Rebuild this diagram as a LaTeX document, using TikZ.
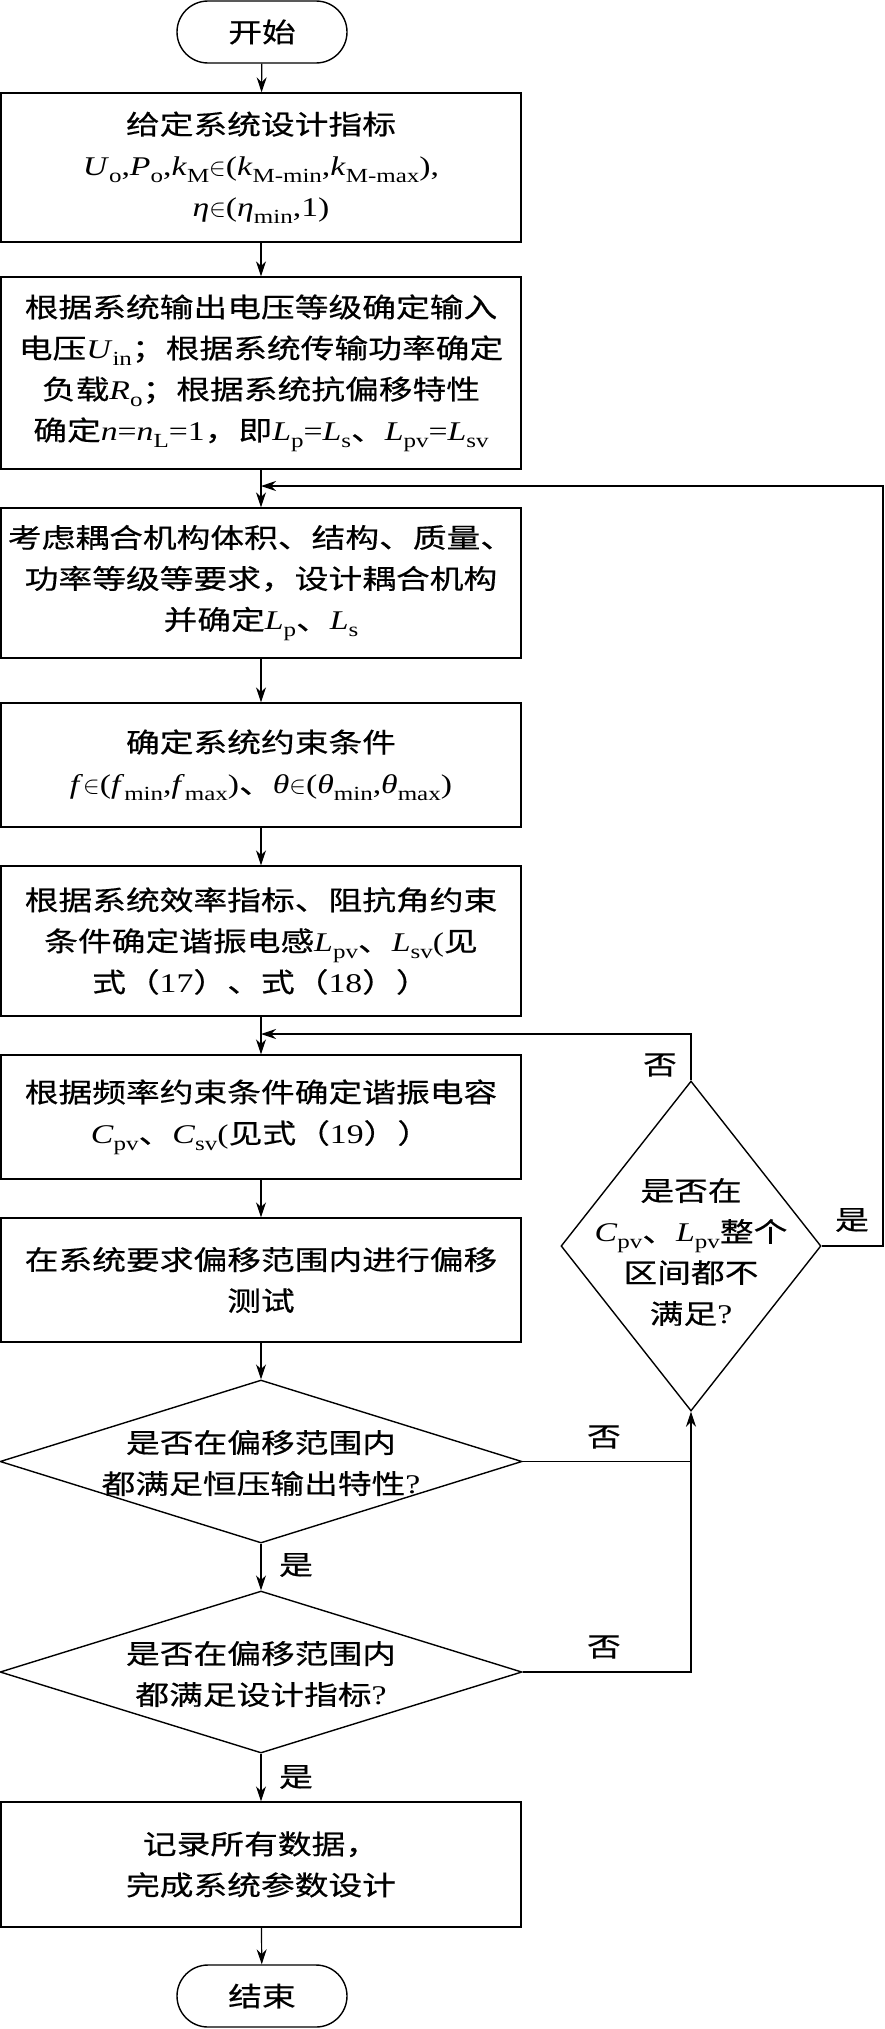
\documentclass[tikz,border=0pt]{standalone}
\usepackage{fontspec}
\setmainfont{Liberation Serif}[FakeStretch=1.25]
\newfontfamily\cjk{Noto Sans CJK SC}[FakeStretch=1.25,FakeBold=0.5]
\usetikzlibrary{shapes.geometric,arrows.meta}
\newcommand\zh[1]{{\cjk #1}}
\newcommand\vsub[2]{\textit{#1}\raisebox{-7pt}{\fontsize{20}{20}\selectfont #2}}
\tikzset{
  procbox/.style={draw, rectangle, line width=1.4pt, minimum width=520pt, inner sep=0pt, align=center},
  termbox/.style={draw, rectangle, rounded corners=31pt, line width=1.4pt, minimum width=170pt, minimum height=62pt, inner sep=0pt},
  decbox/.style={draw, diamond, line width=1.4pt, inner sep=0pt},
  txt/.style={align=center, inner sep=0pt},
  arr/.style={-{Stealth[length=15pt,width=10pt]}, line width=1.2pt},
  ln/.style={line width=1.2pt}
}
\begin{document}
\begin{tikzpicture}[x=1pt, y=-1pt, font=\fontsize{27}{41}\selectfont]
\useasboundingbox (0,0) rectangle (885,2029);
% terminals
\node[termbox] (start) at (262,32) {\zh{开始}};
\node[termbox] (stop) at (262,1996) {\zh{结束}};
% process boxes
\node[procbox, minimum height=149pt] (b1) at (261,167.5)
  {\zh{给定系统设计指标}\\
   \vsub{U}{o},\vsub{P}{o},\vsub{k}{M}$\in$(\vsub{k}{M-min},\vsub{k}{M-max}),\\
   \textit{η}$\in$(\vsub{η}{min},1)};
\node[procbox, minimum height=192pt] (b2) at (261,373)
  {\zh{根据系统输出电压等级确定输入}\\
   \zh{电压}\vsub{U}{in}\zh{；根据系统传输功率确定}\\
   \zh{负载}\vsub{R}{o}\zh{；根据系统抗偏移特性}\\
   \zh{确定}\textit{n}=\vsub{n}{L}=1\zh{，即}\vsub{L}{p}=\vsub{L}{s}\zh{、}\vsub{L}{pv}=\vsub{L}{sv}};
\node[procbox, minimum height=150pt] (b3) at (261,583)
  {\zh{考虑耦合机构体积、结构、质量、}\\
   \zh{功率等级等要求，设计耦合机构}\\
   \zh{并确定}\vsub{L}{p}\zh{、}\vsub{L}{s}};
\node[procbox, minimum height=124pt] (b4) at (261,765)
  {\zh{确定系统约束条件}\\
   \textit{f}$\in$(\vsub{f}{min},\vsub{f}{max})\zh{、}\textit{θ}$\in$(\vsub{θ}{min},\vsub{θ}{max})};
\node[procbox, minimum height=150pt] (b5) at (261,941)
  {\zh{根据系统效率指标、阻抗角约束}\\
   \zh{条件确定谐振电感}\vsub{L}{pv}\zh{、}\vsub{L}{sv}(\zh{见}\\
   \zh{式（}17\zh{）、式（}18\zh{））}};
\node[procbox, minimum height=124pt] (b6) at (261,1117)
  {\zh{根据频率约束条件确定谐振电容}\\
   \vsub{C}{pv}\zh{、}\vsub{C}{sv}(\zh{见式（}19\zh{））}};
\node[procbox, minimum height=124pt] (b7) at (261,1280)
  {\zh{在系统要求偏移范围内进行偏移}\\
   \zh{测试}};
\node[procbox, minimum height=125pt] (b8) at (261,1864.5)
  {\zh{记录所有数据，}\\
   \zh{完成系统参数设计}};
% decisions
\node[decbox, minimum width=522pt, minimum height=163pt] (d1) at (261,1461.5) {};
\node[txt] (d1t) at (261,1463) {\zh{是否在偏移范围内}\\\zh{都满足恒压输出特性}?};
\node[decbox, minimum width=522pt, minimum height=162pt] (d2) at (261,1672) {};
\node[txt] (d2t) at (261,1674) {\zh{是否在偏移范围内}\\\zh{都满足设计指标}?};
\node[decbox, minimum width=260pt, minimum height=330pt] (d3) at (691,1246) {};
\node[txt] (d3t) at (691,1252) {\zh{是否在}\\\vsub{C}{pv}\zh{、}\vsub{L}{pv}\zh{整个}\\\zh{区间都不}\\\zh{满足}?};
% join coordinates
\coordinate (j1) at (261,486);
\coordinate (r1) at (883,486);
\coordinate (j2) at (261,1034);
% main flow
\draw[arr] (start) -- (b1);
\draw[arr] (b1) -- (b2);
\draw[arr] (b2) -- (b3);
\draw[arr] (b3) -- (b4);
\draw[arr] (b4) -- (b5);
\draw[arr] (b5) -- (b6);
\draw[arr] (b6) -- (b7);
\draw[arr] (b7) -- (d1);
\draw[arr] (d1) -- (d2);
\draw[arr] (d2) -- (b8);
\draw[arr] (b8) -- (stop);
% feedback
\draw[arr] (d1.east) -| (d3.south);
\draw[ln] (d2.east) -| (d1.east -| d3.south);
\draw[arr] (d3.north) |- (j2);
\draw[arr] (d3.east) -- (d3.east -| r1) -- (r1) -- (j1);
% labels
\node[txt] (n1) at (604,1437) {\zh{否}};
\node[txt] (n2) at (604,1647) {\zh{否}};
\node[txt] (n3) at (660,1065) {\zh{否}};
\node[txt] (y1) at (852,1220) {\zh{是}};
\node[txt] (y2) at (296,1565) {\zh{是}};
\node[txt] (y3) at (296,1777) {\zh{是}};
\end{tikzpicture}
\end{document}
